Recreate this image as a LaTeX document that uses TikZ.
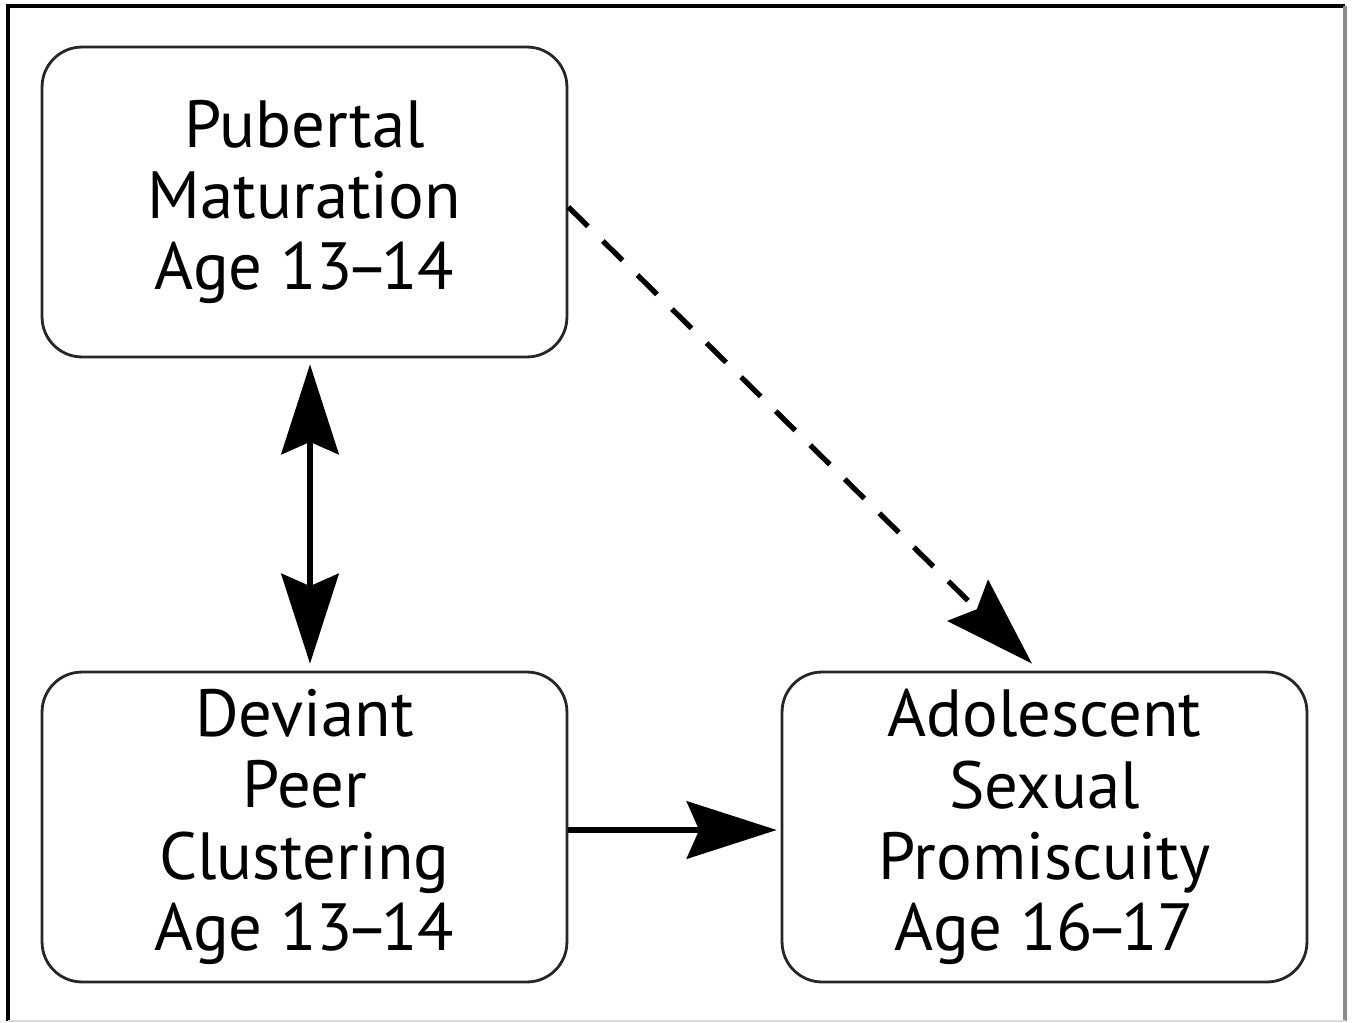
\documentclass[tikz,border=0pt]{standalone}
\usepackage{fontspec}
\setmainfont{PT Sans}
\usetikzlibrary{arrows.meta}

\newcommand{\trattino}{\kern-0.12em--\kern-0.12em}

\tikzset{
  casella/.style={draw=black!85, line width=1.6pt, rounded corners=0.8cm,
    minimum width=10.5cm, minimum height=6.2cm, align=center, inner sep=0pt,
    font=\fontsize{38}{40.5}\selectfont},
  punta/.tip={Stealth[length=1.8cm, width=1.15cm, inset=0.25cm]},
  freccia/.style={line width=3pt, -punta},
}

\begin{document}
\begin{tikzpicture}[x=0.02cm, y=-0.02cm]
        \useasboundingbox (0,0) rectangle (1352,1023);

        %%%%%%%%%% Cornice %%%%%%%%%%
        \draw[line width=2.2pt] (8,1021) -- (8,6) -- (1345,6);
        \draw[black!45, line width=2.2pt] (1345,6) -- (1345,1021);
        \draw[black!15, line width=1pt] (8,1021) -- (1345,1021);

        %%%%%%%%%% Nodi %%%%%%%%%%
        \node[casella] (pub) at (304.5,202) {Pubertal\\Maturation\\Age 13\trattino14};
        \node[casella] (dev) at (304.5,827) {Deviant\\Peer\\Clustering\\Age 13\trattino14};
        \node[casella] (ado) at (1044.5,827) {Adolescent\\Sexual\\Promiscuity\\Age 16\trattino17};

        %%%%%%%%% Frecce %%%%%%%%%
        \draw[freccia, punta-punta] ([xshift=0.11cm,yshift=-0.12cm]pub.south) -- ([xshift=0.11cm,yshift=0.14cm]dev.north);
        \draw[freccia, dash pattern=on 0.55cm off 0.42cm] ([yshift=-0.1cm]pub.east) -- ([xshift=-0.25cm,yshift=0.14cm]ado.north);
        \draw[freccia] ([yshift=-0.06cm]dev.east) -- ([xshift=-0.08cm,yshift=-0.06cm]ado.west);
\end{tikzpicture}
\end{document}
